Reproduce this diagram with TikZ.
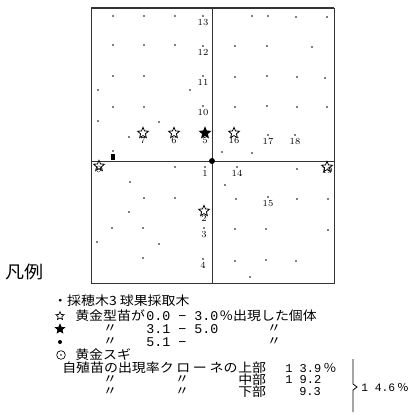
\documentclass[tikz,border=0pt]{standalone}
\usepackage{fontspec}
\newfontfamily\cjk[FakeStretch=1.1]{Noto Sans CJK JP}
\newfontfamily\tw{Liberation Mono}
\newcommand{\pct}{{\cjk ％}}
\usetikzlibrary{shapes.geometric,positioning}

\tikzset{
  opstar/.style={star, star points=5, star point ratio=2.2, draw, line width=0.6pt, inner sep=0pt, minimum size=8.5pt, fill=white},
  fistar/.style={opstar, fill=black},
  tree/.style={circle, fill=black, inner sep=0pt, minimum size=1.3pt},
  num/.style={font=\fontsize{7}{7}\selectfont, inner sep=0pt},
  jp/.style={font=\cjk\fontsize{9.5}{9.5}\selectfont, inner sep=0pt, anchor=west},
  ditto/.style={font=\cjk\fontsize{9.5}{9.5}\selectfont, inner sep=0pt},
  dig/.style={font=\tw\fontsize{10}{10}\selectfont, inner sep=0pt, anchor=west},
  frame/.style={draw=black!80, line width=0.7pt},
}

\begin{document}
\begin{tikzpicture}[x=0.75pt,y=0.75pt,yscale=-1,xscale=1]
\useasboundingbox (0,0) rectangle (410,416);
%Shape: Rectangle [plot frame]
\draw [frame] (91,8) rectangle (334,283) ;
\draw [frame, line width=1.4pt] (91,8) -- (334,8) ;
%Straight Lines [cross lines]
\draw [frame] (212,8) -- (212,283) ;
\draw [frame] (91,161) -- (334,161) ;
%Shape: Circle [centre]
\node [circle, fill=black, inner sep=0pt, minimum size=4.5pt] (c0) at (212,161) {};

%Shape: Dots [unnumbered trees]
\foreach \p [count=\i] in {(113,16),(144,16),(175,16),(113,45),(144,45),(175,45),(113,76),(144,76),
  (98,90),(190,90),(113,107),(144,107),(98,121),(159,122),(129,137),
  (252,16),(268,16),(296,17),(327,17),(235,46),(267,46),(312,47),
  (235,77),(267,76),(297,77),(325,78),(235,107),(267,106),(297,107),(327,107),
  (222,152),(252,153),
  (175,167),(130,182),(144,198),(175,198),(129,212),(112,228),(143,228),
  (97,242),(159,244),(143,258),
  (297,169),(225,185),(236,199),(297,199),(328,199),(235,229),(266,229),(328,230),
  (235,261),(266,260),(296,261),(250,277),(113,151)}
  \node [tree] (d\i) at \p {};

%Shape: Dots [numbered trees]
\foreach \x/\y/\n in {203/16/13,203/46/12,203/76/11,203/106/10,268/135/17,295/135/18,
  205/167/1,204/228/3,203/259/4,237/167/14,268/197/15}
{
  \node [tree] (t\n) at (\x,\y) {};
  \node [num, below=1.2pt of t\n] (l\n) {\n};
}

%Shape: Stars [trees with golden seedlings]
\foreach \x/\y/\n in {143/133/7,174/133/6,234/133/16,204/211/2}
{
  \node [opstar] (s\n) at (\x,\y) {};
  \node [num, below=0.4pt of s\n] (l\n) {\n};
}
\node [fistar] (s5) at (205,133) {};
\node [num, below=0.4pt of s5] (l5) {5};
\node [opstar] (s9) at (99,166) {};
\node [num] (l9) at (s9.south) {9};
\node [opstar] (s19) at (327,167) {};
\node [num] (l19) at (s19.south) {19};
%Shape: Rectangle [marker]
\node [fill=black, inner sep=0pt, minimum width=2.4pt, minimum height=4pt] (m0) at (113,157) {};

% Text Node
\node [font=\cjk\fontsize{13}{13}\selectfont, inner sep=0pt] (lgd) at (25,272) {凡例};

% Legend symbols
\node [opstar, minimum size=6.5pt, line width=0.5pt] (k1) at (60,316) {};
\node [fistar, minimum size=7pt] (k2) at (60,329) {};
\node [circle, fill=black, inner sep=0pt, minimum size=3pt] (k3) at (60,342) {};
\node [circle, draw, line width=0.5pt, inner sep=0pt, minimum size=6.5pt] (k4) at (61,355) {};
\node [tree] (k4c) at (k4) {};

% Text Node
\node [jp] (a1) at (53,301) {・採穂木3\ 球果採取木};
% Text Node
\node [jp] (a2) at (75,316) {黄金型苗が};
\node [dig] (a3) at (146,316) {0.0 − 3.0};
\node [jp] (a4) at (219,316) {％出現した個体};
% Text Node
\node [ditto] (b1) at (110,329) {〃};
\node [dig] (b2) at (146,329) {3.1 − 5.0};
\node [ditto] (b3) at (274,329) {〃};
% Text Node
\node [ditto] (c1) at (110,342) {〃};
\node [dig] (c2) at (146,342) {5.1 −};
\node [ditto] (c3) at (274,342) {〃};
% Text Node
\node [jp] (e1) at (75,355) {黄金スギ};
% Text Node
\node [jp] (f1) at (62,368) {自殖苗の出現率ク\hspace{2pt}ロ\hspace{2pt}ー\hspace{2pt}ネの};
\node [jp] (f2) at (238,368) {上部};
\node [dig, font=\tw\fontsize{9}{9}\selectfont] (f3) at (285,368) {1 3.9\,\pct};
% Text Node
\node [ditto] (g1) at (110,380) {〃};
\node [ditto] (g2) at (182,380) {〃};
\node [jp] (g3) at (238,380) {中部};
\node [dig, font=\tw\fontsize{9}{9}\selectfont] (g4) at (285,380) {1 9.2};
% Text Node
\node [ditto] (h1) at (110,392) {〃};
\node [ditto] (h2) at (182,392) {〃};
\node [jp] (h3) at (238,392) {下部};
\node [dig, font=\tw\fontsize{9}{9}\selectfont] (h4) at (299,392) {9.3};

%Straight Lines [brace]
\draw [line width=0.6pt] (353,359) -- (353,384) -- (357,387) -- (353,390) -- (353,412) ;
% Text Node
\node [dig, font=\tw\fontsize{8.5}{8.5}\selectfont] (t146) at (361,387) {1 4.6\,{\fontsize{8}{8}\selectfont\pct}};
\end{tikzpicture}
\end{document}
